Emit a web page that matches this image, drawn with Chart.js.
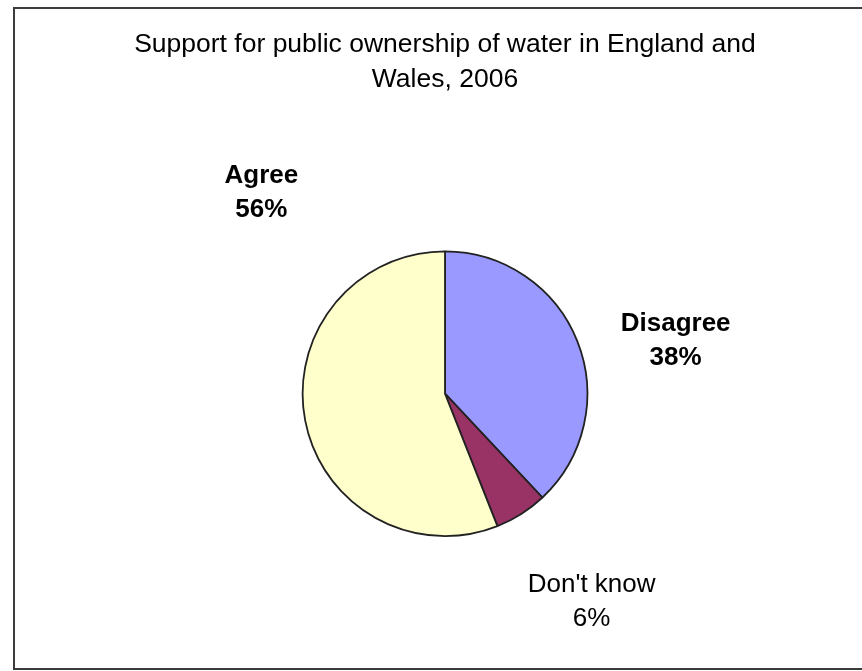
<!DOCTYPE html>
<html>
<head>
<meta charset="utf-8">
<title>Support for public ownership of water</title>
<script src="https://cdn.jsdelivr.net/npm/chart.js@4/dist/chart.umd.min.js"></script>
<style>
    body { margin: 0; background: #fff; }
    canvas { display: block; }
</style>
</head>
<body>
<canvas id="waterPie" width="862" height="671"></canvas>
<script>
// data
var categories = ["Disagree", "Don't know", "Agree"];
var shares = [38, 6, 56];
var sliceColors = ['#9999FF', '#993366', '#FFFFCC'];
var titleLines = ['Support for public ownership of water in England and', 'Wales, 2006'];

// where each label sits, in pie radii from the centre
var labelOffsets = [[1.62, -0.37], [1.03, 1.46], [-1.29, -1.41]];
var labelBold = [true, false, true];

var frame = {
    id: 'frame',
    beforeDraw: function(chart) {
        var c = chart.ctx;
        c.save();
        c.fillStyle = '#fff';
        c.fillRect(0, 0, chart.width, chart.height);
        c.strokeStyle = '#3c3c3c';
        c.lineWidth = 2;
        c.strokeRect(14, 8, chart.width + 20, chart.height - 10);
        c.restore();
    }
};

var sliceLabels = {
    id: 'sliceLabels',
    afterDatasetsDraw: function(chart) {
        var c = chart.ctx;
        var arcs = chart.getDatasetMeta(0).data;
        c.save();
        c.fillStyle = '#000';
        c.textAlign = 'center';
        c.textBaseline = 'middle';
        arcs.forEach(function(arc, i) {
            var r = arc.outerRadius;
            var x = arc.x + labelOffsets[i][0] * r;
            var y = arc.y + labelOffsets[i][1] * r;
            c.font = (labelBold[i] ? 'bold ' : '') + '26px "Liberation Sans", Arial, sans-serif';
            c.fillText(categories[i], x, y - 17);
            c.fillText(shares[i] + '%', x, y + 17);
        });
        c.restore();
    }
};

var ctx = document.getElementById("waterPie");
new Chart(ctx, {
    type: 'pie',
    data: {
        labels: categories,
        datasets: [{
            data: shares,
            backgroundColor: sliceColors,
            borderColor: '#222',
            borderWidth: 1.8,
            hoverOffset: 0
        }]
    },
    options: {
        responsive: false,
        animation: false,
        events: [],
        layout: {
            padding: { left: 28, right: 0, top: 0, bottom: 134 }
        },
        plugins: {
            legend: { display: false },
            tooltip: { enabled: false },
            title: {
                display: true,
                text: titleLines,
                color: '#000',
                font: { family: '"Liberation Sans", Arial, sans-serif', size: 26.5, weight: 'normal', lineHeight: 1.32 },
                padding: { top: 27.5, bottom: 153 }
            }
        }
    },
    plugins: [frame, sliceLabels]
});
</script>
</body>
</html>
